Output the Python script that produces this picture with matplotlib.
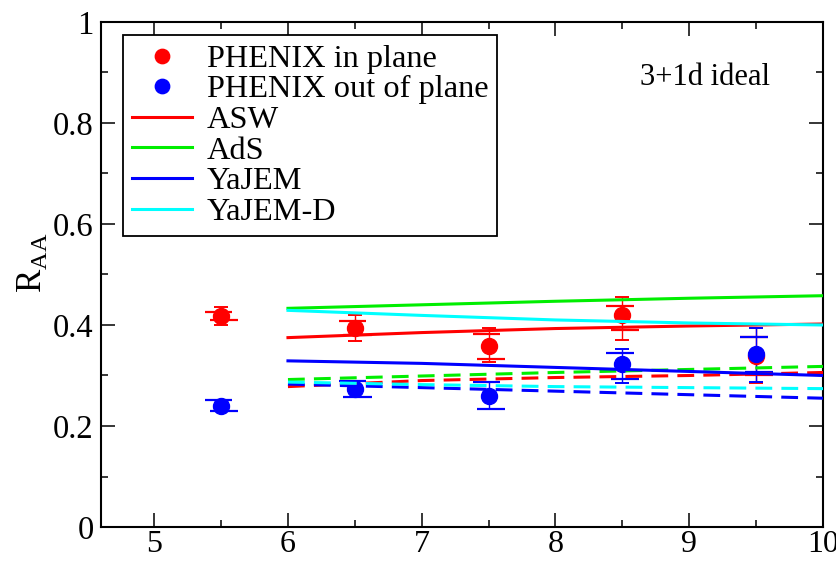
import matplotlib
matplotlib.use("Agg")
import matplotlib.pyplot as plt
import numpy as np
from matplotlib.ticker import MultipleLocator, FuncFormatter

plt.rcParams['font.family'] = ['Liberation Serif', 'DejaVu Serif']
plt.rcParams['mathtext.fontset'] = 'custom'
plt.rcParams['mathtext.rm'] = 'Liberation Serif'

# PHENIX data points (pT in GeV)
pt_data = [5.5, 6.5, 7.5, 8.5, 9.5]

inplane_y = [0.418, 0.394, 0.358, 0.419, 0.338]
inplane_stat_lo = [0.400, 0.368, 0.327, 0.370, 0.286]
inplane_stat_hi = [0.435, 0.420, 0.394, 0.455, 0.395]
inplane_sys_lo = [0.410, 0.381, 0.333, 0.390, 0.300]
inplane_sys_hi = [0.425, 0.407, 0.383, 0.437, 0.376]

outplane_y = [0.239, 0.273, 0.259, 0.322, 0.342]
outplane_stat_lo = [0.229, 0.257, 0.233, 0.286, 0.287]
outplane_stat_hi = [0.252, 0.290, 0.287, 0.352, 0.394]
outplane_sys_lo = [0.229, 0.257, 0.233, 0.293, 0.306]
outplane_sys_hi = [0.252, 0.290, 0.287, 0.345, 0.376]

# Model curves: solid = in plane, dashed = out of plane
pt_model = [6, 7, 8, 9, 10]
asw_in = [0.375, 0.385, 0.393, 0.398, 0.402]
asw_out = [0.278, 0.290, 0.296, 0.300, 0.306]
ads_in = [0.433, 0.440, 0.447, 0.453, 0.458]
ads_out = [0.292, 0.299, 0.306, 0.312, 0.318]
yajem_in = [0.329, 0.324, 0.316, 0.308, 0.300]
yajem_out = [0.283, 0.276, 0.269, 0.262, 0.255]
yajemd_in = [0.429, 0.419, 0.410, 0.404, 0.400]
yajemd_out = [0.287, 0.282, 0.278, 0.276, 0.274]

fig = plt.figure(figsize=(8.37, 5.61), dpi=100)
ax = fig.add_axes([0.1203, 0.0606, 0.8630, 0.9002])


def draw_points(y, slo, shi, ylo, yhi, color, label):
    x = np.array(pt_data)
    y = np.array(y)
    yerr = np.vstack([y - np.array(slo), np.array(shi) - y])
    ax.errorbar(x, y, yerr=yerr, fmt='none', ecolor=color, elinewidth=1.0,
                capsize=5, capthick=1.4, zorder=3)
    ax.hlines(yhi, x - 0.12, x + 0.085, colors=color, linewidth=1.6, zorder=3)
    ax.hlines(ylo, x - 0.085, x + 0.125, colors=color, linewidth=1.6, zorder=3)
    ax.plot(x, y, 'o', color=color, markersize=11.5, linestyle='none',
            label=label, zorder=4)


draw_points(inplane_y, inplane_stat_lo, inplane_stat_hi,
            inplane_sys_lo, inplane_sys_hi, '#ff0000', 'PHENIX in plane')
draw_points(outplane_y, outplane_stat_lo, outplane_stat_hi,
            outplane_sys_lo, outplane_sys_hi, '#0000ff', 'PHENIX out of plane')

models = [
    ('ASW', '#ff0000', asw_in, asw_out),
    ('AdS', '#00ee00', ads_in, ads_out),
    ('YaJEM', '#0000ff', yajem_in, yajem_out),
    ('YaJEM-D', '#00ffff', yajemd_in, yajemd_out),
]
for name, color, yin, yout in models:
    ax.plot(pt_model, yout, color=color, linewidth=2.2, dashes=(5.5, 3.0),
            zorder=5)
for name, color, yin, yout in models:
    ax.plot(pt_model, yin, color=color, linewidth=2.2, label=name, zorder=5)

ax.set_xlim(4.6, 10)
ax.set_ylim(0, 1)
ax.xaxis.set_major_locator(MultipleLocator(1))
ax.xaxis.set_minor_locator(MultipleLocator(0.5))
ax.yaxis.set_major_locator(MultipleLocator(0.2))
ax.yaxis.set_minor_locator(MultipleLocator(0.1))
ax.yaxis.set_major_formatter(FuncFormatter(lambda v, p: '%g' % round(v, 3)))
ax.xaxis.set_major_formatter(FuncFormatter(lambda v, p: '%g' % round(v, 3)))
ax.tick_params(which='both', direction='in', top=True, right=True,
               width=1.1, colors='black')
ax.tick_params(which='major', length=10, labelsize=23.5, pad=5)
ax.tick_params(which='minor', length=5)
ax.tick_params(axis='x', which='major', pad=2, labelsize=23)
for s in ax.spines.values():
    s.set_linewidth(1.5)

ax.set_ylabel(r'$\mathrm{R}_{\mathrm{AA}}$', fontsize=25)
ax.yaxis.set_label_coords(-0.071, 0.523)

ax.text(0.9266, 0.875, '3+1d ideal', transform=ax.transAxes, fontsize=22,
        ha='right', va='baseline')

leg = ax.legend(loc='upper left', bbox_to_anchor=(0.031, 0.974),
                borderaxespad=0, fontsize=23.3, frameon=True, fancybox=False,
                edgecolor='black', framealpha=1, handlelength=1.85,
                handletextpad=0.45, borderpad=0.28, labelspacing=0.03,
                markerscale=0.9)
leg.get_frame().set_linewidth(1.3)

fig.savefig('out.png', dpi=100)
